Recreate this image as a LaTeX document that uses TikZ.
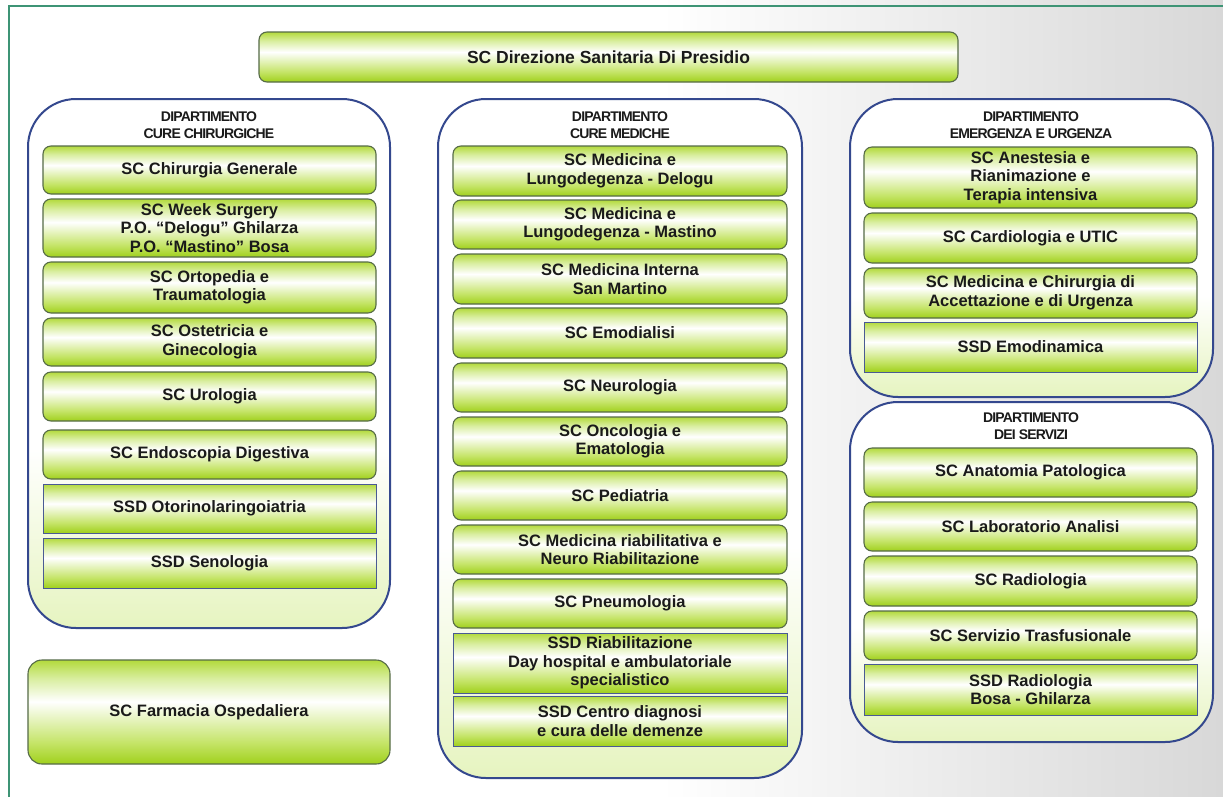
\documentclass[tikz,border=0pt]{standalone}
\usepackage{fontspec}
\setmainfont{Liberation Sans}
\newfontfamily\hdrfont{Liberation Sans}[LetterSpace=-6]
\definecolor{gtop}{HTML}{B3DA3C}
\definecolor{gtopl}{HTML}{D9EEA0}
\definecolor{gbot}{HTML}{A0D01C}
\definecolor{gbotl}{HTML}{C4E466}
\definecolor{scborder}{HTML}{566B47}
\definecolor{ssdborder}{HTML}{4A5A94}
\definecolor{deptborder}{HTML}{34488E}
\definecolor{frameg}{HTML}{3E9475}
\definecolor{txt}{HTML}{1A1A1A}
\definecolor{deptbot}{HTML}{E6F4C0}
\definecolor{bggray}{HTML}{D8D8D8}
\pgfdeclareverticalshading{greenbar}{100bp}{color(0bp)=(gbot); color(25bp)=(gbot); color(35bp)=(gbotl); color(55bp)=(white); color(66bp)=(gtopl); color(75bp)=(gtop); color(100bp)=(gtop)}
\pgfdeclareverticalshading{deptshade}{100bp}{color(0bp)=(deptbot); color(25bp)=(deptbot); color(42bp)=(white); color(100bp)=(white)}
\pgfdeclarehorizontalshading{bgshade}{100bp}{color(0bp)=(white); color(52bp)=(white); color(75bp)=(bggray); color(100bp)=(bggray)}
\newcommand\myboxfont{\bfseries\fontsize{16.5}{18.5}\selectfont}
\newcommand\orgbox[7]{\node[#2, minimum width={(#5-#3)*1pt}, minimum height={(#6-#4)*1pt}] (#1) at ({(#3+#5)/2},{(#4+#6)/2}) {#7};}
\tikzset{
  scbox/.style={draw=scborder, line width=1.1pt, rounded corners=8pt, shading=greenbar, inner sep=0pt, align=center, text=txt, font=\myboxfont},
  ssdbox/.style={draw=ssdborder, line width=0.8pt, shading=greenbar, inner sep=0pt, align=center, text=txt, font=\myboxfont},
  deptbox/.style={draw=deptborder, line width=2pt, rounded corners=48pt, shading=deptshade, inner sep=0pt},
  depthead/.style={align=center, text=txt, font={\hdrfont\bfseries\fontsize{14}{16.5}\selectfont}}
}
\begin{document}
\begin{tikzpicture}[x=1pt,y=-1pt]
\useasboundingbox (0,0) rectangle (1223,796);
\clip (0,0) rectangle (1223,796);
\shade[shading=bgshade] (0,0) rectangle (1223,796);
\draw[frameg, line width=2pt] (9,810) -- (9,6) -- (1240,6);
% top
\orgbox{dir}{scbox, font={\bfseries\fontsize{17.5}{20}\selectfont}}{259}{32}{958}{82}{SC Direzione Sanitaria Di Presidio}
% departments
\orgbox{dchir}{deptbox}{28}{99}{390}{628}{}
\orgbox{dmed}{deptbox}{438}{99}{802}{778}{}
\orgbox{deme}{deptbox}{850}{99}{1213}{397}{}
\orgbox{dser}{deptbox}{850}{402}{1213}{742}{}
\node[depthead] (hchir) at (209,125) {DIPARTIMENTO\\CURE CHIRURGICHE};
\node[depthead] (hmed) at (620,125) {DIPARTIMENTO\\CURE MEDICHE};
\node[depthead] (heme) at (1031,125) {DIPARTIMENTO\\EMERGENZA E URGENZA};
\node[depthead] (hser) at (1031,426) {DIPARTIMENTO\\DEI SERVIZI};
% left
\orgbox{l1}{scbox}{43}{146}{376}{194}{SC Chirurgia Generale}
\orgbox{l2}{scbox}{43}{199}{376}{257}{SC Week Surgery\\P.O. “Delogu” Ghilarza\\P.O. “Mastino” Bosa}
\orgbox{l3}{scbox}{43}{262}{376}{313}{SC Ortopedia e\\Traumatologia}
\orgbox{l4}{scbox}{43}{318}{376}{366}{SC Ostetricia e\\Ginecologia}
\orgbox{l5}{scbox}{43}{372}{376}{421}{SC Urologia}
\orgbox{l6}{scbox}{43}{430}{376}{479}{SC Endoscopia Digestiva}
\orgbox{l7}{ssdbox}{43}{484}{376}{533}{SSD Otorinolaringoiatria}
\orgbox{l8}{ssdbox}{43}{538}{376}{588}{SSD Senologia}
\orgbox{farm}{scbox, rounded corners=14pt}{28}{660}{390}{764}{SC Farmacia Ospedaliera}
% middle
\orgbox{m1}{scbox}{453}{146}{787}{196}{SC Medicina e\\Lungodegenza - Delogu}
\orgbox{m2}{scbox}{453}{200}{787}{249}{SC Medicina e\\Lungodegenza - Mastino}
\orgbox{m3}{scbox}{453}{254}{787}{304}{SC Medicina Interna\\San Martino}
\orgbox{m4}{scbox}{453}{308}{787}{358}{SC Emodialisi}
\orgbox{m5}{scbox}{453}{363}{787}{412}{SC Neurologia}
\orgbox{m6}{scbox}{453}{417}{787}{466}{SC Oncologia e\\Ematologia}
\orgbox{m7}{scbox}{453}{471}{787}{520}{SC Pediatria}
\orgbox{m8}{scbox}{453}{525}{787}{574}{SC Medicina riabilitativa e\\Neuro Riabilitazione}
\orgbox{m9}{scbox}{453}{579}{787}{628}{SC Pneumologia}
\orgbox{m10}{ssdbox}{453}{633}{787}{693}{SSD Riabilitazione\\Day hospital e ambulatoriale\\specialistico}
\orgbox{m11}{ssdbox}{453}{696}{787}{746}{SSD Centro diagnosi\\e cura delle demenze}
% right
\orgbox{r1}{scbox}{864}{147}{1197}{208}{SC Anestesia e\\Rianimazione e\\Terapia intensiva}
\orgbox{r2}{scbox}{864}{213}{1197}{263}{SC Cardiologia e UTIC}
\orgbox{r3}{scbox}{864}{268}{1197}{318}{SC Medicina e Chirurgia di\\Accettazione e di Urgenza}
\orgbox{r4}{ssdbox}{864}{322}{1197}{372}{SSD Emodinamica}
\orgbox{s1}{scbox}{864}{448}{1197}{497}{SC Anatomia Patologica}
\orgbox{s2}{scbox}{864}{502}{1197}{551}{SC Laboratorio Analisi}
\orgbox{s3}{scbox}{864}{556}{1197}{606}{SC Radiologia}
\orgbox{s4}{scbox}{864}{611}{1197}{660}{SC Servizio Trasfusionale}
\orgbox{s5}{ssdbox}{864}{664}{1197}{715}{SSD Radiologia\\Bosa - Ghilarza}
\end{tikzpicture}
\end{document}
